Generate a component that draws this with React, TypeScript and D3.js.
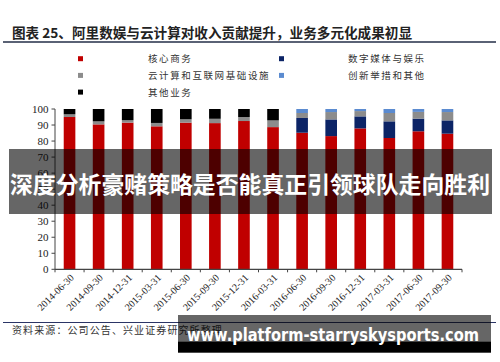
import React from "react";
import * as d3 from "d3";

// 报告期
const periods = [
  "2014-06-30", "2014-09-30", "2014-12-31", "2015-03-31", "2015-06-30",
  "2015-09-30", "2015-12-31", "2016-03-31", "2016-06-30", "2016-09-30",
  "2016-12-31", "2017-03-31", "2017-06-30", "2017-09-30",
];

// 收入占比 (%)
const coreCommerce = [95.0, 90.4, 91.5, 89.2, 91.5, 91.2, 92.5, 88.7, 85.2, 83.1, 87.9, 81.9, 86.1, 84.6];
const digitalMedia = [0, 0, 0, 0, 0, 0, 0, 0, 9.2, 10.4, 7.5, 10.4, 7.9, 8.3];
const cloudComputing = [1.7, 1.9, 1.5, 2.1, 2.1, 2.7, 2.5, 4.2, 3.1, 4.6, 3.3, 5.2, 4.2, 5.2];
const innovation = [0, 0, 0, 0, 0, 0, 0, 0, 2.5, 1.9, 1.3, 2.5, 1.8, 1.9];
const otherBusiness = [3.3, 7.7, 7.0, 8.7, 6.4, 6.1, 5.0, 7.1, 0, 0, 0, 0, 0, 0];

const yTicks = [0, 10, 20, 30, 40, 50, 60, 70, 80, 90, 100];

const series = [
  { key: "core", name: "核心商务", values: coreCommerce, color: "#c00000" },
  { key: "media", name: "数字媒体与娱乐", values: digitalMedia, color: "#0c2466" },
  { key: "cloud", name: "云计算和互联网基础设施", values: cloudComputing, color: "#8c8c8c" },
  { key: "innov", name: "创新举措和其他", values: innovation, color: "#5b8bd0" },
  { key: "other", name: "其他业务", values: otherBusiness, color: "#000000" },
];

// legend layout: [col, row]
const legendSlots: Record<string, [number, number]> = {
  core: [0, 0],
  media: [1, 0],
  cloud: [0, 1],
  innov: [1, 1],
  other: [0, 2],
};

const W = 500;
const H = 362;
const serif = "'Liberation Serif', 'DejaVu Serif', serif";
const cjk = "'Noto Sans CJK SC', sans-serif";

export default function App() {
  const x = d3
    .scaleBand<string>()
    .domain(periods)
    .range([55, 462])
    .paddingInner(0.6)
    .paddingOuter(0.3);
  const y = d3.scaleLinear().domain([0, 100]).range([269.3, 109]);

  const table = periods.map((p, i) => {
    const row: any = { period: p };
    series.forEach((s) => (row[s.key] = s.values[i]));
    return row;
  });
  const stacked = d3.stack<any>().keys(series.map((s) => s.key))(table);

  const step = x.step();
  const x0 = x.range()[0];
  const boundaries = d3.range(periods.length + 1).map((i) => x0 + i * step);

  return (
    <svg
      width={W}
      height={H}
      style={{ position: "absolute", left: 0, top: 0, background: "#fff" }}
    >
      {/* title */}
      <text x={12} y={38} fontFamily={cjk} fontWeight="bold" fontSize={13.5} fill="#222"
        textLength={400} lengthAdjust="spacingAndGlyphs">
        图表 25、阿里数娱与云计算对收入贡献提升，业务多元化成果初显
      </text>
      <line x1={3} x2={496} y1={42} y2={42} stroke="#5a6275" strokeWidth={2} />

      {/* legend */}
      {series.map((s) => {
        const [c, r] = legendSlots[s.key];
        const sx = c === 0 ? 78 : 279;
        const tx = c === 0 ? 148 : 348;
        const cy = 58.7 + r * 16.7;
        return (
          <g key={s.key}>
            <rect x={sx} y={cy - 2.5} width={5} height={5} fill={s.color} />
            <text x={tx} y={cy + 3.5} fontFamily={cjk} fontSize={9.5} letterSpacing={1.6} fill="#333">
              {s.name}
            </text>
          </g>
        );
      })}

      {/* bars */}
      {stacked.map((layer, li) => (
        <g key={layer.key} fill={series[li].color}>
          {layer.map((d, i) =>
            d[1] - d[0] > 0 ? (
              <rect
                key={i}
                x={x(periods[i])}
                width={x.bandwidth()}
                y={y(d[1])}
                height={y(d[0]) - y(d[1])}
              />
            ) : null
          )}
        </g>
      ))}

      {/* y axis */}
      <line x1={55} x2={55} y1={y(100)} y2={y(0)} stroke="#444" strokeWidth={1} />
      {yTicks.map((t) => (
        <g key={t}>
          <line x1={51.5} x2={55} y1={y(t)} y2={y(t)} stroke="#444" />
          <text x={48.5} y={y(t) + 3.8} textAnchor="end" fontFamily={serif} fontSize={11} fill="#222">
            {t}
          </text>
        </g>
      ))}

      {/* x axis */}
      <line x1={55} x2={462} y1={y(0)} y2={y(0)} stroke="#444" strokeWidth={1.2} />
      {boundaries.map((bx, i) => (
        <line key={i} x1={bx} x2={bx} y1={y(0)} y2={y(0) + 3} stroke="#444" />
      ))}
      {periods.map((p) => {
        const cx = (x(p) as number) + x.bandwidth() / 2 + 5;
        return (
          <text
            key={p}
            transform={`translate(${cx},${y(0) + 9}) rotate(-45)`}
            textAnchor="end"
            fontFamily={serif}
            fontSize={10}
            fill="#222"
          >
            {p}
          </text>
        );
      })}

      {/* source */}
      <line x1={3} x2={496} y1={322.5} y2={322.5} stroke="#2b3566" strokeWidth={1.2} />
      <text x={12} y={334} fontFamily={cjk} fontSize={10} letterSpacing={1.1} fill="#333">
        资料来源：公司公告、兴业证券研究所整理
      </text>

      {/* overlay banner */}
      <rect x={9} y={149} width={483} height={65} fill="#000" opacity={0.6} />
      <text x={250} y={193} textAnchor="middle" fontFamily={cjk} fontWeight="bold" fontSize={22.5}
        fill="#fff" textLength={480} lengthAdjust="spacingAndGlyphs">
        深度分析豪赌策略是否能真正引领球队走向胜利
      </text>

      {/* bottom watermark */}
      <rect x={178} y={315} width={313} height={27} fill="#000" opacity={0.6} />
      <rect x={178} y={341.7} width={313} height={11} fill="#000" />
      <text x={187} y={341} fontFamily="'DejaVu Sans', sans-serif" fontWeight="bold" fontSize={17}
        fill="#fff" textLength={292} lengthAdjust="spacingAndGlyphs">
        www.platform-starryskysports.com
      </text>
    </svg>
  );
}
